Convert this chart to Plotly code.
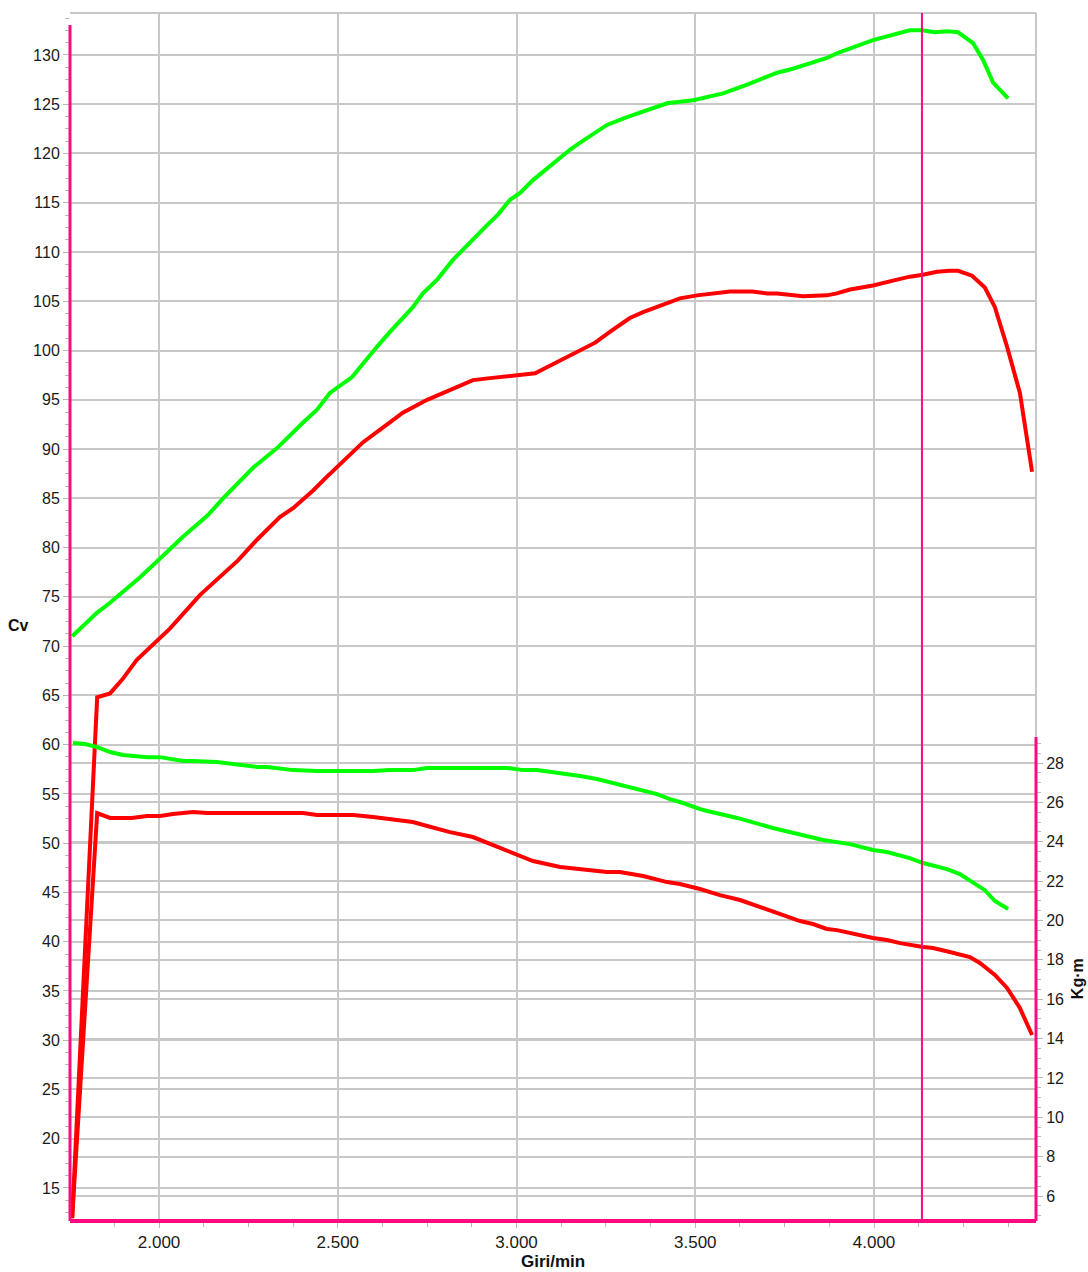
import numpy as np
import plotly.graph_objects as go

# ---------------- data ----------------
# Green power curve (Cv, left axis)
green_power_rpm = [1757, 1827, 1863, 1897, 1947, 2003, 2067, 2137, 2179, 2263, 2330, 2403, 2442, 2478,
                   2540, 2610, 2646, 2710, 2738, 2778, 2822, 2917, 2948, 2982, 3010, 3046, 3085, 3150,
                   3178, 3253, 3309, 3365, 3421, 3494, 3578, 3645, 3729, 3773, 3829, 3868, 3905, 3997,
                   4100, 4134, 4170, 4204, 4235, 4277, 4305, 4333, 4375]
green_power_cv = [71.0, 73.4, 74.4, 75.4, 77.0, 78.9, 81.1, 83.3, 85.0, 88.1, 90.1, 92.7, 94.0, 95.7,
                  97.3, 100.4, 101.9, 104.4, 105.8, 107.2, 109.2, 112.7, 113.8, 115.3, 116.0, 117.3, 118.5, 120.4,
                  121.1, 122.9, 123.7, 124.4, 125.1, 125.4, 126.1, 127.0, 128.2, 128.6, 129.3, 129.7, 130.3, 131.5,
                  132.5, 132.5, 132.3, 132.4, 132.3, 131.2, 129.5, 127.2, 125.6]

# Red power curve (Cv, left axis)
red_power_rpm = [1757, 1827, 1863, 1897, 1938, 1994, 2031, 2115, 2221, 2274, 2338, 2375, 2431, 2470,
                 2506, 2571, 2627, 2682, 2750, 2814, 2878, 2926, 3001, 3052, 3085, 3150, 3178, 3220,
                 3261, 3317, 3354, 3393, 3457, 3505, 3597, 3659, 3701, 3729, 3801, 3868, 3896, 3933,
                 3997, 4053, 4100, 4137, 4176, 4212, 4235, 4274, 4310, 4338, 4372, 4408, 4442]
red_power_cv = [11.95, 64.8, 65.2, 66.6, 68.6, 70.6, 71.8, 75.2, 78.7, 80.8, 83.1, 84.0, 85.8, 87.2,
                88.4, 90.7, 92.2, 93.7, 95.0, 96.0, 97.0, 97.2, 97.5, 97.7, 98.3, 99.5, 100.1, 100.8,
                101.9, 103.3, 103.9, 104.4, 105.3, 105.6, 106.0, 106.0, 105.8, 105.8, 105.5, 105.6, 105.8, 106.2,
                106.6, 107.1, 107.5, 107.7, 108.0, 108.1, 108.1, 107.6, 106.4, 104.4, 100.4, 95.7, 87.7]

# Green torque curve (Kg·m, right axis)
green_torque_rpm = [1759, 1793, 1827, 1863, 1899, 1966, 2003, 2067, 2095, 2134, 2162, 2274, 2302, 2375,
                    2442, 2599, 2646, 2710, 2750, 2973, 3018, 3057, 3122, 3178, 3225, 3261, 3309, 3354,
                    3393, 3429, 3457, 3522, 3617, 3717, 3773, 3857, 3933, 3997, 4036, 4100, 4137, 4165,
                    4204, 4240, 4277, 4310, 4338, 4375]
green_torque_kgm = [29.02, 28.97, 28.81, 28.56, 28.41, 28.30, 28.30, 28.10, 28.10, 28.05, 28.05, 27.80, 27.80, 27.64,
                    27.59, 27.59, 27.64, 27.64, 27.75, 27.75, 27.64, 27.64, 27.49, 27.34, 27.19, 27.03, 26.83, 26.58,
                    26.42, 26.17, 26.02, 25.61, 25.21, 24.70, 24.44, 24.09, 23.88, 23.58, 23.48, 23.17, 22.92, 22.77,
                    22.61, 22.36, 21.95, 21.54, 20.99, 20.58]

# Red torque curve (Kg·m, right axis)
red_torque_rpm = [1757, 1827, 1863, 1924, 1966, 2003, 2039, 2095, 2134, 2235, 2274, 2338, 2375, 2403,
                  2442, 2543, 2599, 2654, 2710, 2750, 2814, 2878, 2934, 2990, 3046, 3122, 3253, 3289,
                  3354, 3421, 3457, 3513, 3569, 3625, 3681, 3737, 3793, 3829, 3868, 3896, 3933, 3969,
                  3997, 4036, 4073, 4137, 4165, 4212, 4268, 4296, 4338, 4372, 4408, 4442]
red_torque_kgm = [4.88, 25.46, 25.21, 25.21, 25.31, 25.31, 25.41, 25.51, 25.46, 25.46, 25.51, 25.51, 25.46, 25.46,
                  25.36, 25.36, 25.26, 25.15, 25.00, 24.80, 24.49, 24.24, 23.83, 23.43, 23.02, 22.72, 22.46, 22.46,
                  22.26, 21.95, 21.85, 21.60, 21.29, 21.04, 20.68, 20.33, 19.97, 19.82, 19.57, 19.51, 19.36, 19.21,
                  19.11, 19.01, 18.85, 18.65, 18.60, 18.40, 18.14, 17.84, 17.23, 16.57, 15.55, 14.18]

x_tick_vals = [2000, 2500, 3000, 3500, 4000]
x_tick_text = ["2.000", "2.500", "3.000", "3.500", "4.000"]
y_tick_vals = list(range(15, 131, 5))
y2_tick_vals = list(range(6, 29, 2))
cursor_rpm = 4134

# ---------------- style ----------------
PINK = "#ff0a80"
GRID = "#c8c8c8"
TICKC = "#b8b8b8"
FONT = "Liberation Sans, Arial, sans-serif"
X_RANGE = [1751, 4453]
Y_RANGE = [11.65, 134.26]
Y2_RANGE = [4.73, 66.11]

fig = go.Figure()
fig.add_trace(go.Scatter(x=green_power_rpm, y=green_power_cv, mode="lines",
                         line=dict(color="#00ff00", width=4), yaxis="y"))
fig.add_trace(go.Scatter(x=red_power_rpm, y=red_power_cv, mode="lines",
                         line=dict(color="#ff0000", width=4), yaxis="y"))
fig.add_trace(go.Scatter(x=green_torque_rpm, y=green_torque_kgm, mode="lines",
                         line=dict(color="#00ff00", width=4), yaxis="y2"))
fig.add_trace(go.Scatter(x=red_torque_rpm, y=red_torque_kgm, mode="lines",
                         line=dict(color="#ff0000", width=4), yaxis="y2"))

shapes = [
    # gray frame top and right (upper part)
    dict(type="line", xref="paper", yref="paper", x0=0, x1=1, y0=1, y1=1,
         line=dict(color=GRID, width=2), layer="below"),
    dict(type="line", xref="paper", yref="y2", x0=1, x1=1, y0=29.32, y1=Y2_RANGE[1],
         line=dict(color=GRID, width=2), layer="below"),
    # pink axes
    dict(type="line", xref="paper", yref="y", x0=0, x1=0, y0=Y_RANGE[0], y1=133.05,
         line=dict(color=PINK, width=3), layer="above"),
    dict(type="line", xref="paper", yref="paper", x0=0, x1=1, y0=0, y1=0,
         line=dict(color=PINK, width=4), layer="above"),
    dict(type="line", xref="paper", yref="y2", x0=1, x1=1, y0=Y2_RANGE[0], y1=29.32,
         line=dict(color=PINK, width=3), layer="above"),
    # cursor
    dict(type="line", xref="x", yref="paper", x0=cursor_rpm, x1=cursor_rpm, y0=0, y1=1,
         line=dict(color=PINK, width=2), layer="above"),
]

annotations = [
    dict(text="<b>Cv</b>", xref="paper", yref="paper", x=-0.0538, y=0.493, showarrow=False,
         font=dict(family=FONT, size=16, color="#111"), xanchor="center", yanchor="middle"),
    dict(text="<b>Kg·m</b>", xref="paper", yref="paper", x=1.0424, y=0.201, showarrow=False,
         textangle=-90, font=dict(family=FONT, size=16, color="#111"), xanchor="center", yanchor="middle"),
    dict(text="<b>Giri/min</b>", xref="paper", yref="paper", x=0.5, y=-0.0339, showarrow=False,
         font=dict(family=FONT, size=17, color="#111"), xanchor="center", yanchor="middle"),
]

fig.update_layout(
    width=1088, height=1272,
    margin=dict(l=70, r=52, t=13, b=51),
    paper_bgcolor="white", plot_bgcolor="white",
    showlegend=False,
    font=dict(family=FONT, size=16, color="#1a1a1a"),
    shapes=shapes, annotations=annotations,
    xaxis=dict(range=X_RANGE, tickmode="array", tickvals=x_tick_vals, ticktext=x_tick_text,
               tickfont=dict(size=17),
               showgrid=True, gridcolor=GRID, gridwidth=1.5, zeroline=False, showline=False,
               ticks="outside", ticklen=6, tickcolor=TICKC, tickwidth=1,
               minor=dict(tickmode="array", tickvals=list(np.arange(1875, 4453, 125)),
                          ticks="outside", ticklen=5, tickcolor=TICKC, showgrid=False),
               fixedrange=True),
    yaxis=dict(range=Y_RANGE, tickmode="array", tickvals=y_tick_vals,
               ticktext=[str(v) for v in y_tick_vals],
               showgrid=True, gridcolor=GRID, gridwidth=1.5, zeroline=False, showline=False,
               ticks="outside", ticklen=6, tickcolor=TICKC,
               minor=dict(tickmode="array", tickvals=list(np.arange(12.5, 134.3, 1.25)),
                          ticks="outside", ticklen=4, tickcolor=TICKC, showgrid=False)),
    yaxis2=dict(range=Y2_RANGE, overlaying="y", side="right", tickmode="array",
                tickvals=y2_tick_vals, ticktext=[str(v) for v in y2_tick_vals],
                showgrid=True, gridcolor=GRID, gridwidth=1.5, zeroline=False, showline=False,
                ticks="outside", ticklen=6, tickcolor=TICKC,
                minor=dict(tickmode="array", tickvals=list(np.arange(5, 29.5, 0.5)),
                           ticks="outside", ticklen=4, tickcolor=TICKC, showgrid=False)),
)

fig.write_html("out.html", config={"displayModeBar": False},
               post_script="document.body.style.margin='0';document.body.style.overflow='hidden';")
